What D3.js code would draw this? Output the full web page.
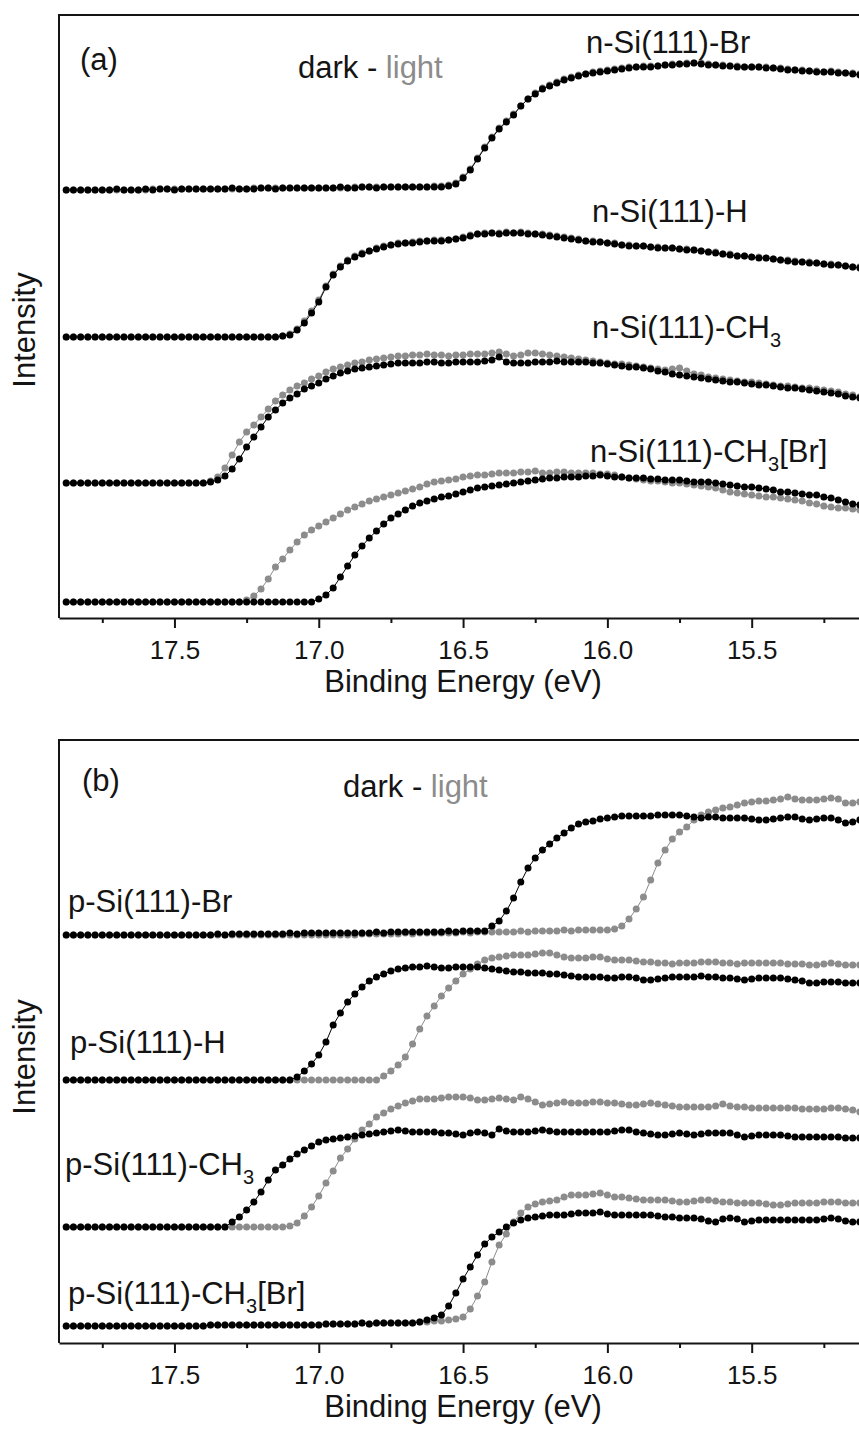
<!DOCTYPE html>
<html>
<head>
<meta charset="utf-8">
<script src="https://cdn.jsdelivr.net/npm/d3@7"></script>
<style>
  body { margin: 0; background: #fff; }
  svg { display: block; }
</style>
</head>
<body>
<svg id="chart" width="859" height="1429"></svg>
<script>
// Binding energy grid (eV), shared by every spectrum
const energy = [
17.875,17.85,17.825,17.8,17.775,17.75,17.725,17.7,17.675,17.65,
17.625,17.6,17.575,17.55,17.525,17.5,17.475,17.45,17.425,17.4,
17.375,17.35,17.325,17.3,17.275,17.25,17.225,17.2,17.175,17.15,
17.125,17.1,17.075,17.05,17.025,17,16.975,16.95,16.925,16.9,
16.875,16.85,16.825,16.8,16.775,16.75,16.725,16.7,16.675,16.65,
16.625,16.6,16.575,16.55,16.525,16.5,16.475,16.45,16.425,16.4,
16.375,16.35,16.325,16.3,16.275,16.25,16.225,16.2,16.175,16.15,
16.125,16.1,16.075,16.05,16.025,16,15.975,15.95,15.925,15.9,
15.875,15.85,15.825,15.8,15.775,15.75,15.725,15.7,15.675,15.65,
15.625,15.6,15.575,15.55,15.525,15.5,15.475,15.45,15.425,15.4,
15.375,15.35,15.325,15.3,15.275,15.25,15.225,15.2,15.175,15.15,
15.125];

const majorTicks = [17.5, 17.0, 16.5, 16.0, 15.5];
const minorTicks = [17.75, 17.25, 16.75, 16.25, 15.75, 15.25];

// Intensity (arb. units, stacked with offsets) — n-type samples
const nBrDark = [
428,428,428,428,428,428,428,429,428,428,
428,429,428,429,429,428,429,429,429,429,
429,429,429,430,429,429,429,430,430,429,
430,430,430,430,430,430,430,430,431,430,
430,431,431,430,431,431,431,431,431,431,
431,431,431,432,434,440,448,459,470,480,
489,496,503,512,519,524,529,532,535,538,
540,542,544,545,546,547,548,549,550,551,
551,551,552,553,553,554,554,555,554,553,
553,552,552,551,551,551,551,550,550,549,
548,548,547,547,546,546,546,545,545,544,
543];
const nBrLight = [
428,428,428,428,428,428,428,428,428,428,
428,428,429,429,429,429,429,429,429,429,
429,429,429,429,429,429,430,430,430,430,
430,430,430,430,430,430,430,430,430,430,
431,431,431,431,431,431,431,431,431,431,
431,432,432,433,435,441,449,460,471,481,
490,497,504,512,519,525,530,533,536,539,
541,543,544,546,547,548,549,550,551,551,
552,552,552,553,554,554,555,555,555,554,
553,553,552,552,551,551,551,551,550,550,
549,548,548,547,547,546,547,546,545,545,
544];
const nHDark = [
281,281,281,281,281,281,281,281,281,281,
281,281,281,281,281,281,281,281,281,281,
281,281,281,281,281,281,281,281,281,281,
282,283,288,295,305,316,331,343,351,357,
361,364,367,369,371,373,374,375,375,376,
377,377,377,378,379,380,382,384,384,385,
384,385,385,385,384,384,383,382,381,380,
379,378,377,376,376,375,374,373,372,372,
372,371,370,370,370,369,368,368,367,366,
365,364,363,362,362,361,360,360,359,358,
357,356,356,355,355,354,353,353,352,351,
350];
const nHLight = [
281,281,281,281,281,281,281,281,281,281,
281,281,281,281,281,281,281,281,281,281,
281,281,281,281,281,281,281,281,281,281,
282,284,289,297,307,318,332,344,352,358,
362,365,367,370,372,373,375,375,376,377,
377,378,378,378,379,381,383,384,385,385,
385,386,385,386,385,384,384,383,382,381,
380,379,377,377,376,375,375,373,373,372,
372,371,371,370,370,369,369,368,367,366,
366,364,364,362,362,361,361,360,359,358,
358,357,356,356,355,354,354,353,352,351,
351];
const nCH3Dark = [
135,135,135,135,135,135,135,135,135,135,
135,135,135,135,135,135,135,135,135,135,
136,138,142,149,159,171,181,191,201,208,
215,220,224,229,232,235,239,242,245,247,
249,250,251,252,253,254,255,255,255,255,
256,256,255,255,256,256,256,256,257,258,
261,256,255,255,255,256,256,256,257,256,
256,256,256,255,255,254,253,252,251,251,
250,249,247,246,244,243,242,241,240,239,
238,237,236,236,235,234,233,233,232,231,
230,230,229,228,227,226,225,224,222,221,
220];
const nCH3Light = [
135,135,135,135,135,135,135,135,135,135,
135,135,135,135,135,135,135,135,135,135,
137,141,150,163,176,186,193,201,209,217,
223,228,232,235,239,242,246,249,251,253,
255,256,258,259,260,261,262,262,263,263,
264,263,263,262,263,263,264,264,264,265,
266,264,262,263,265,265,264,263,262,261,
260,259,258,257,256,255,254,254,253,252,
251,250,249,248,249,250,247,244,243,241,
240,239,238,237,236,236,235,234,233,232,
232,231,230,230,229,228,227,226,224,223,
221];
const nCH3BrDark = [
16,16,16,16,16,16,16,16,16,16,
16,16,16,16,16,16,16,16,16,16,
16,16,16,16,16,16,16,16,16,16,
16,16,16,16,16,19,23,30,41,52,
63,72,80,87,94,100,104,108,112,115,
117,119,121,122,124,126,128,130,131,132,
133,134,135,136,137,138,139,140,140,141,
141,141,142,142,143,142,141,141,140,140,
140,139,139,138,138,138,137,136,136,136,
135,134,133,132,131,131,130,129,128,126,
126,125,124,123,123,121,120,118,116,114,
113];
const nCH3BrLight = [
16,16,16,16,16,16,16,16,16,16,
16,16,16,16,16,16,16,16,16,16,
16,16,16,16,16,18,22,29,39,51,
59,68,76,83,88,92,96,100,104,108,
111,114,117,119,121,123,125,127,129,131,
134,136,137,138,139,141,142,143,143,144,
145,145,145,146,146,147,145,145,146,146,
145,145,145,145,144,144,143,141,140,139,
138,137,137,136,135,135,134,133,132,131,
130,128,126,125,124,123,122,121,121,120,
119,118,117,115,114,112,111,110,110,109,
108];

// Intensity (arb. units, stacked with offsets) — p-type samples
const pBrDark = [
408,408,408,408,408,408,408,408,408,408,
408,408,408,408,408,408,408,408,408,408,
408,409,408,409,409,409,409,409,409,409,
409,410,409,410,410,410,410,410,410,410,
410,410,410,411,410,411,411,411,411,411,
411,411,411,412,411,412,412,412,412,417,
422,432,445,461,475,485,493,499,505,510,
515,519,521,522,524,525,526,527,527,527,
527,527,528,528,528,528,527,526,525,526,
526,525,525,525,525,524,523,523,524,525,
526,526,524,523,524,525,525,523,520,521,
523];
const pBrLight = [
408,408,408,408,408,408,408,408,408,408,
408,408,408,408,408,408,408,408,408,408,
408,408,408,408,408,408,408,408,408,408,
408,408,408,408,408,408,408,408,408,408,
408,409,409,409,409,409,409,410,409,410,
410,410,410,410,410,411,410,411,411,411,
411,411,411,412,411,412,412,412,412,413,
412,413,413,413,413,413,414,417,424,434,
446,463,480,493,504,511,516,523,528,531,
533,535,536,538,540,541,542,542,543,544,
546,544,543,543,543,544,545,544,540,540,
541];
const pHDark = [
263,263,263,263,263,263,263,263,263,263,
263,263,263,263,263,263,263,263,263,263,
263,263,263,263,263,263,263,263,263,263,
263,263,266,272,279,288,301,318,330,341,
349,356,362,366,369,372,374,375,376,376,
377,376,375,375,376,376,376,376,375,374,
373,372,371,371,370,370,370,369,369,368,
367,366,366,366,366,365,365,366,366,365,
363,363,364,365,366,366,366,366,367,366,
366,365,365,364,363,364,365,365,365,365,
364,363,362,360,360,361,361,361,360,360,
360];
const pHLight = [
263,263,263,263,263,263,263,263,263,263,
263,263,263,263,263,263,263,263,263,263,
263,263,263,263,263,263,263,263,263,263,
263,263,263,263,263,263,263,263,263,263,
263,263,263,263,267,272,278,286,299,314,
327,337,347,355,362,369,374,379,383,385,
386,387,388,388,388,389,390,390,388,386,
385,385,385,386,386,384,383,383,383,382,
381,381,380,380,379,380,380,380,381,381,
381,380,380,379,380,380,380,380,380,380,
379,379,379,378,378,379,380,379,378,378,
378];
const pCH3Dark = [
116,116,116,116,116,116,116,116,116,116,
116,116,116,116,116,116,116,116,116,116,
116,116,116,121,126,133,141,151,163,173,
178,184,189,193,197,201,203,204,205,206,
207,208,209,210,211,212,213,212,211,211,
211,211,210,210,209,208,210,211,210,208,
214,212,211,211,211,212,213,212,211,211,
211,211,211,211,211,211,212,213,213,211,
210,209,208,208,209,210,209,208,209,210,
210,210,210,208,206,207,208,208,208,208,
207,206,206,206,206,206,206,206,205,205,
205];
const pCH3Light = [
116,116,116,116,116,116,116,116,116,116,
116,116,116,116,116,116,116,116,116,116,
116,116,116,116,116,116,116,116,116,116,
116,117,120,127,136,147,160,172,185,194,
204,213,219,226,230,234,237,240,242,244,
244,244,245,246,246,246,245,243,243,244,
245,244,243,246,244,241,238,239,240,241,
240,240,240,241,241,240,240,239,238,238,
239,240,239,238,237,236,236,236,236,236,
237,239,237,236,236,235,235,235,235,235,
235,235,234,234,234,234,235,235,234,233,
231];
const pCH3BrDark = [
17,17,17,17,17,17,17,17,17,17,
17,17,17,17,17,17,17,17,17,17,
18,18,18,18,18,18,18,18,18,18,
18,18,18,18,18,18,19,19,19,19,
19,20,19,20,20,20,20,20,20,21,
23,25,28,37,50,64,76,88,99,106,
111,116,120,123,125,126,127,128,128,128,
129,130,130,130,131,129,128,128,128,128,
128,128,127,126,126,125,125,125,124,122,
121,124,125,124,121,122,123,123,123,123,
123,123,123,123,123,124,125,124,122,121,
121];
const pCH3BrLight = [
17,17,17,17,17,17,17,17,17,17,
17,17,17,17,17,17,17,17,17,17,
18,18,18,18,18,18,18,18,18,18,
18,18,18,18,18,18,19,19,19,19,
19,20,19,20,20,20,20,20,20,21,
21,22,22,23,24,26,34,47,61,81,
98,109,121,130,136,139,141,142,143,146,
148,148,148,149,150,148,146,146,145,144,
143,143,143,143,142,141,141,142,143,143,
142,141,141,140,140,140,140,139,138,138,
139,140,140,140,140,141,141,141,140,140,
140];

// Sample names; "_3" marks a subscript 3
const nNames = ["n-Si(111)-Br", "n-Si(111)-H", "n-Si(111)-CH_3", "n-Si(111)-CH_3[Br]"];
const pNames = ["p-Si(111)-Br", "p-Si(111)-H", "p-Si(111)-CH_3", "p-Si(111)-CH_3[Br]"];

// ---------- drawing ----------
const FONT = '"Liberation Sans", Arial, Helvetica, sans-serif';
const INK = "#141414";
const DARK = "#000000";
const LIGHT = "#8c8c8c";

const svg = d3.select("#chart");
const x = d3.scaleLinear().domain([17.9, 15.0]).range([59, 896]);

const panels = [
  {
    tag: "(a)", top: 15, bottom: 618,
    tagPos: [80, 70], legendPos: [298, 78], titleY: 692, yTitleY: 330,
    names: nNames,
    dark: [nBrDark, nHDark, nCH3Dark, nCH3BrDark],
    light: [nBrLight, nHLight, nCH3Light, nCH3BrLight],
    namePos: [[586, 53], [592, 222], [592, 338], [590, 462]]
  },
  {
    tag: "(b)", top: 740, bottom: 1343,
    tagPos: [82, 791], legendPos: [343, 797], titleY: 1417, yTitleY: 1057,
    names: pNames,
    dark: [pBrDark, pHDark, pCH3Dark, pCH3BrDark],
    light: [pBrLight, pHLight, pCH3Light, pCH3BrLight],
    namePos: [[68, 912], [70, 1053], [65, 1175], [68, 1304]]
  }
];

function addLabel(g, name, px, py) {
  const t = g.append("text")
    .attr("x", px).attr("y", py)
    .attr("font-family", FONT).attr("font-size", 31).attr("fill", INK);
  const parts = name.split("_3");
  t.append("tspan").text(parts[0]);
  if (parts.length > 1) {
    t.append("tspan").attr("font-size", 20).attr("dy", 9).text("3");
    if (parts[1]) t.append("tspan").attr("dy", -9).text(parts[1]);
  }
}

panels.forEach(p => {
  const y = d3.scaleLinear().domain([0, 603]).range([p.bottom, p.top]);
  const g = svg.append("g");
  const line = d3.line().x(d => x(d[0])).y(d => y(d[1]));

  // spectra: light first, dark drawn on top
  p.dark.forEach((darkVals, k) => {
    [[p.light[k], LIGHT], [darkVals, DARK]].forEach(([vals, col]) => {
      const pts = energy.map((e, i) => [e, vals[i]]);
      g.append("path").datum(pts)
        .attr("d", line).attr("fill", "none")
        .attr("stroke", col).attr("stroke-width", 1);
      g.append("g").selectAll("circle").data(pts).join("circle")
        .attr("cx", d => x(d[0])).attr("cy", d => y(d[1]))
        .attr("r", 3.5).attr("fill", col);
    });
  });

  // frame: left and top edges
  g.append("line").attr("x1", 59).attr("x2", 59).attr("y1", p.top).attr("y2", p.bottom)
    .attr("stroke", INK).attr("stroke-width", 2);
  g.append("line").attr("x1", 58).attr("x2", 900).attr("y1", p.top).attr("y2", p.top)
    .attr("stroke", INK).attr("stroke-width", 2);

  // bottom axis with major and minor ticks
  const ax = g.append("g").attr("transform", `translate(0,${p.bottom})`)
    .call(d3.axisBottom(x).tickValues(majorTicks).tickFormat(d3.format(".1f"))
      .tickSize(10).tickSizeOuter(0));
  ax.attr("font-family", FONT).attr("font-size", 26);
  ax.select(".domain").attr("stroke", INK).attr("stroke-width", 2);
  ax.selectAll(".tick line").attr("stroke", INK).attr("stroke-width", 2);
  ax.selectAll(".tick text").attr("dy", null).attr("y", 41).attr("fill", INK);

  const mx = g.append("g").attr("transform", `translate(0,${p.bottom})`)
    .call(d3.axisBottom(x).tickValues(minorTicks).tickFormat("").tickSize(5).tickSizeOuter(0));
  mx.select(".domain").remove();
  mx.selectAll(".tick line").attr("stroke", INK).attr("stroke-width", 2);

  // axis titles
  g.append("text").attr("x", 463).attr("y", p.titleY).attr("text-anchor", "middle")
    .attr("font-family", FONT).attr("font-size", 31).attr("fill", INK)
    .text("Binding Energy (eV)");
  g.append("text").attr("transform", `translate(35,${p.yTitleY}) rotate(-90)`)
    .attr("text-anchor", "middle")
    .attr("font-family", FONT).attr("font-size", 31).attr("fill", INK)
    .text("Intensity");

  // panel tag and dark/light key
  g.append("text").attr("x", p.tagPos[0]).attr("y", p.tagPos[1])
    .attr("font-family", FONT).attr("font-size", 31).attr("fill", INK).text(p.tag);
  const key = g.append("text").attr("x", p.legendPos[0]).attr("y", p.legendPos[1])
    .attr("font-family", FONT).attr("font-size", 31).attr("fill", INK);
  key.append("tspan").text("dark - ");
  key.append("tspan").attr("fill", LIGHT).text("light");

  // sample names
  p.names.forEach((nm, k) => addLabel(g, nm, p.namePos[k][0], p.namePos[k][1]));
});
</script>
</body>
</html>
